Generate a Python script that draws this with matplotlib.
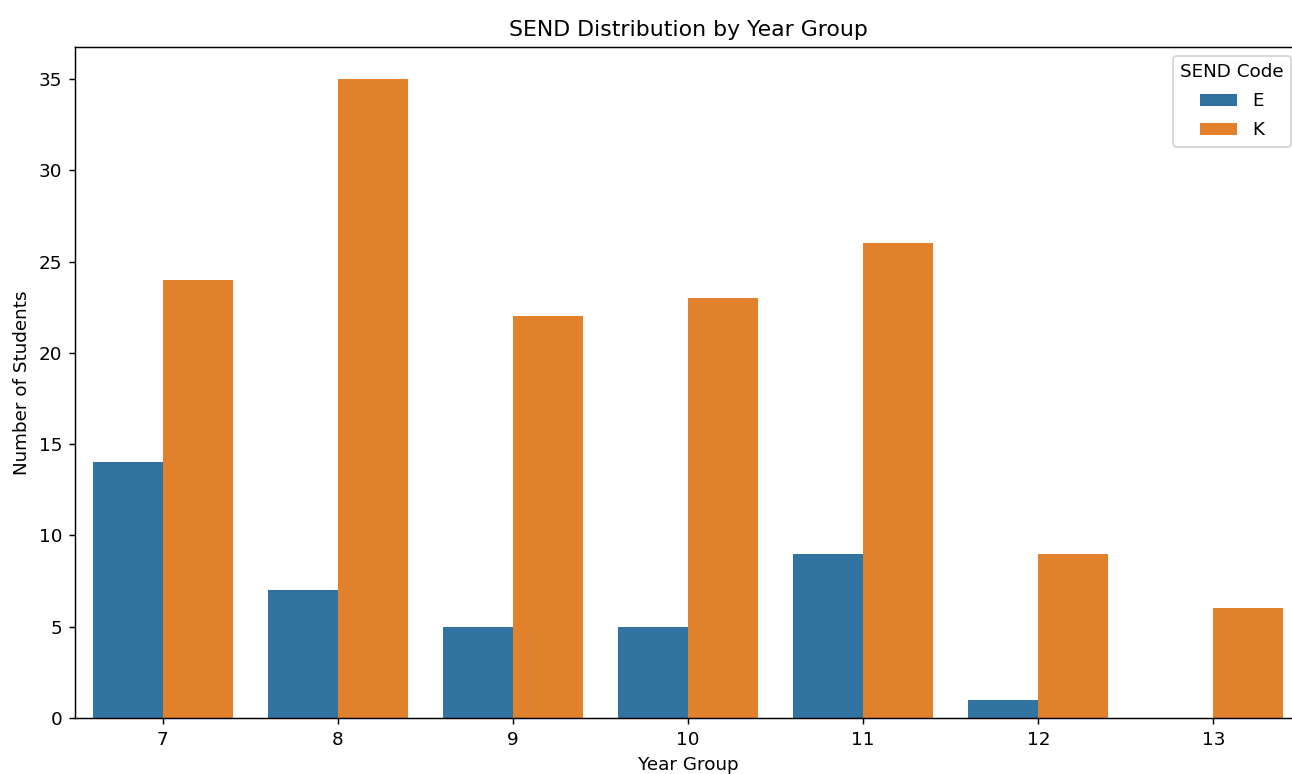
import numpy as np
import matplotlib
matplotlib.use("Agg")
import matplotlib.pyplot as plt

YEAR_GROUPS = ["7", "8", "9", "10", "11", "12", "13"]
SEND_CODES = ["E", "K"]
COUNT_E = [14, 7, 5, 5, 9, 1, 0]
COUNT_K = [24, 35, 22, 23, 26, 9, 6]
COLORS = {"E": "#3274a1", "K": "#e1812c"}

W, H, DPI = 1292, 774, 132


def main():
    fig = plt.figure(figsize=(W / DPI, H / DPI), dpi=DPI)
    # axes slightly wider than the figure: the reference is cropped on the right
    ax = fig.add_axes([75 / W, 1 - 718 / H, 1226 / W, (718 - 47) / H])

    x = np.arange(len(YEAR_GROUPS))
    width = 0.4
    ax.bar(x - width / 2, COUNT_E, width, color=COLORS["E"], label="E")
    ax.bar(x + width / 2, COUNT_K, width, color=COLORS["K"], label="K")

    ax.set_xticks(x)
    ax.set_xticklabels(YEAR_GROUPS)
    ax.set_xlim(-0.5, len(YEAR_GROUPS) - 0.5)
    ax.set_ylim(0, max(COUNT_K) * 1.05)
    ax.set_xlabel("Year Group")
    ax.set_ylabel("Number of Students")
    ax.set_title("SEND Distribution by Year Group")
    ax.spines["right"].set_visible(False)
    ax.legend(title="SEND Code", loc="upper right", bbox_to_anchor=(0.9995, 1.0),
              labelspacing=0.6)

    plt.savefig("out.png", dpi=DPI)
    plt.close()


if __name__ == "__main__":
    main()
